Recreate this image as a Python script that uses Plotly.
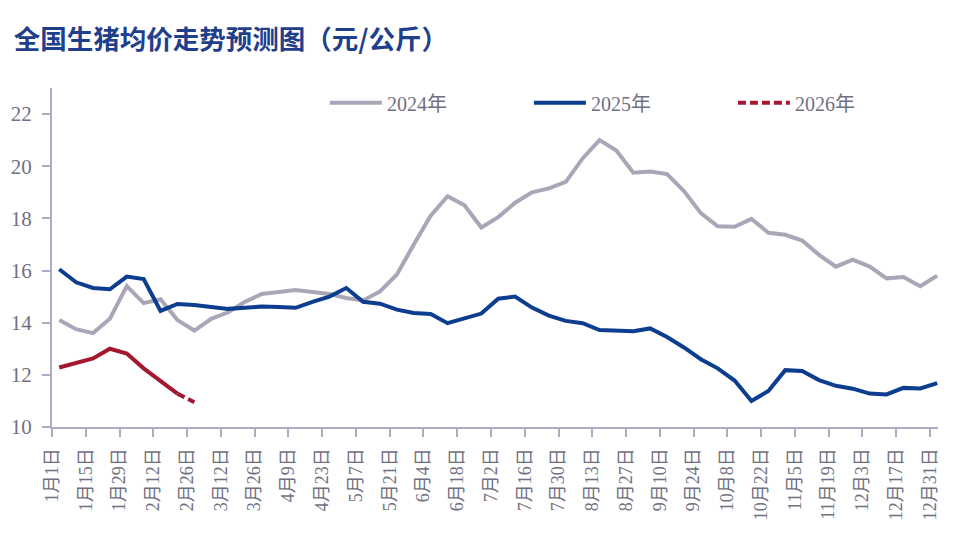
import pandas as pd
import plotly.graph_objects as go

# ---- data ----
tick_dates = ["2025-01-01", "2025-01-15", "2025-01-29", "2025-02-12", "2025-02-26",
              "2025-03-12", "2025-03-26", "2025-04-09", "2025-04-23", "2025-05-07",
              "2025-05-21", "2025-06-04", "2025-06-18", "2025-07-02", "2025-07-16",
              "2025-07-30", "2025-08-13", "2025-08-27", "2025-09-10", "2025-09-24",
              "2025-10-08", "2025-10-22", "2025-11-05", "2025-11-19", "2025-12-03",
              "2025-12-17", "2025-12-31"]
tick_labels = ["1月1日", "1月15日", "1月29日", "2月12日", "2月26日", "3月12日", "3月26日",
               "4月9日", "4月23日", "5月7日", "5月21日", "6月4日", "6月18日", "7月2日",
               "7月16日", "7月30日", "8月13日", "8月27日", "9月10日", "9月24日", "10月8日",
               "10月22日", "11月5日", "11月19日", "12月3日", "12月17日", "12月31日"]

# weekly observation dates (month/day shared by all years)
weeks = pd.date_range("2025-01-04", periods=53, freq="7D")

price_2024 = [14.1, 13.75, 13.6, 14.15, 15.4, 14.75, 14.9, 14.1, 13.7, 14.15,
              14.4, 14.8, 15.1, 15.18, 15.25, 15.18, 15.1, 14.95, 14.85, 15.2,
              15.85, 17.0, 18.1, 18.85, 18.5, 17.65, 18.05, 18.6, 19.0, 19.15,
              19.4, 20.3, 21.0, 20.6, 19.75, 19.8, 19.7, 19.05, 18.2, 17.7,
              17.68, 17.98, 17.45, 17.37, 17.15, 16.6, 16.15, 16.42, 16.15, 15.7,
              15.75, 15.4, 15.8]
price_2025 = [16.05, 15.55, 15.33, 15.28, 15.77, 15.67, 14.45, 14.72, 14.68, 14.6,
              14.53, 14.57, 14.62, 14.6, 14.57, 14.8, 15.0, 15.33, 14.8, 14.73,
              14.5, 14.37, 14.33, 13.98, 14.15, 14.35, 14.92, 15.0, 14.58, 14.27,
              14.07, 13.98, 13.72, 13.7, 13.67, 13.78, 13.45, 13.05, 12.6, 12.25,
              11.78, 11.0, 11.38, 12.18, 12.15, 11.8, 11.58, 11.47, 11.28, 11.25,
              11.5, 11.48, 11.68]
price_2026 = [12.28, 12.45, 12.63, 13.0, 12.82, 12.25, 11.75, 11.28, 10.95]
n_actual_2026 = 8  # solid part; last segment is the forecast (dashed)

# ---- style ----
GRAY = "#a9a7b7"
BLUE = "#0d3d8e"
RED = "#a3182e"
AXIS = "#aeabc2"
TEXT = "#717082"
SERIF = "Liberation Serif, Noto Sans CJK SC, serif"

fig = go.Figure()
fig.add_trace(go.Scatter(x=weeks, y=price_2024, mode="lines", name="2024年",
                         line=dict(color=GRAY, width=4)))
fig.add_trace(go.Scatter(x=weeks, y=price_2025, mode="lines", name="2025年",
                         line=dict(color=BLUE, width=4)))
fig.add_trace(go.Scatter(x=weeks[:n_actual_2026], y=price_2026[:n_actual_2026],
                         mode="lines", name="2026年", showlegend=False,
                         line=dict(color=RED, width=4)))
fig.add_trace(go.Scatter(x=weeks[n_actual_2026 - 1:len(price_2026)],
                         y=price_2026[n_actual_2026 - 1:], mode="lines", name="2026年",
                         line=dict(color=RED, width=4, dash="8px,4px")))

fig.update_layout(
    width=971, height=548,
    margin=dict(l=44, r=41, t=80, b=129, autoexpand=False),
    paper_bgcolor="white", plot_bgcolor="white",
    title=dict(text="全国生猪均价走势预测图（元/公斤）", x=0.006, xanchor="left",
               y=0.942, yanchor="middle",
               font=dict(family="Noto Sans CJK SC", size=26.5, color="#1f3f8c", weight=700)),
    showlegend=True,
    legend=dict(orientation="h", x=0.308, xanchor="left", y=1.014, yanchor="top",
                entrywidth=137, entrywidthmode="pixels", itemwidth=52,
                font=dict(family=SERIF, size=20, color=TEXT),
                bgcolor="rgba(0,0,0,0)", traceorder="normal"),
    xaxis=dict(type="date", range=["2025-01-01", "2026-01-03 08:00"],
               tickvals=tick_dates, ticktext=tick_labels, tickangle=-90,
               showgrid=False, zeroline=False, showline=True, linecolor=AXIS, linewidth=2,
               ticks="outside", ticklen=8, tickwidth=2, tickcolor=AXIS,
               ticklabelstandoff=4, automargin=False,
               tickfont=dict(family=SERIF, size=18, color=TEXT)),
    yaxis=dict(range=[10, 23], tickvals=[10, 12, 14, 16, 18, 20, 22],
               showgrid=False, zeroline=False, showline=True, linecolor=AXIS, linewidth=2,
               ticks="outside", ticklen=8, tickwidth=2, tickcolor=AXIS,
               ticklabelstandoff=6, automargin=False,
               tickfont=dict(family=SERIF, size=21, color=TEXT)),
)

fig.write_html("out.html")
